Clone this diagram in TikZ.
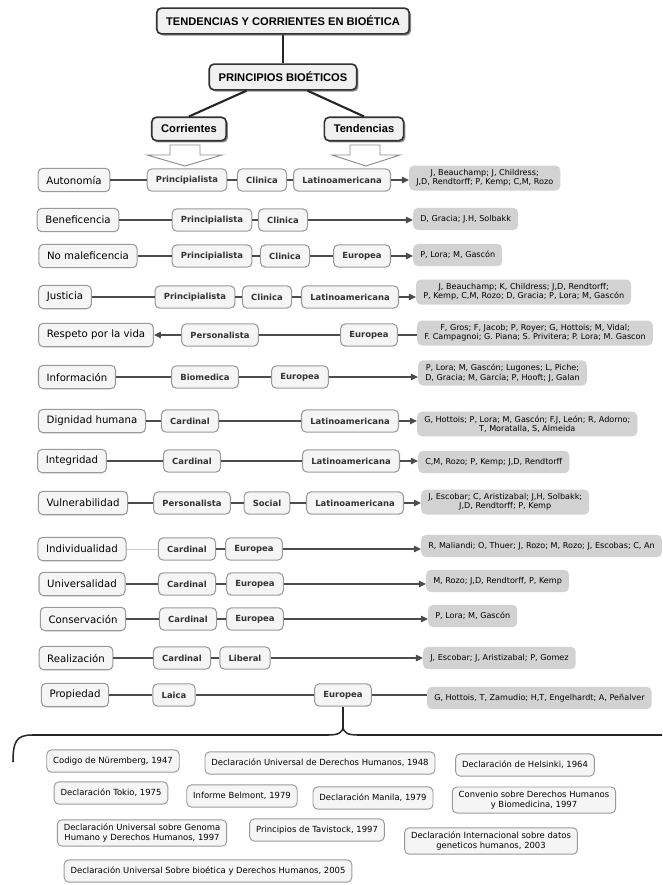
\documentclass[tikz,border=0pt]{standalone}
\usepackage{fontspec}
\setmainfont{DejaVu Sans}
\newfontfamily\titfont{Liberation Sans}
\usetikzlibrary{arrows.meta,shadows}

\begin{document}
\begin{tikzpicture}[x=0.03cm,y=-0.03cm,
    titulo/.style={draw=black!80,line width=1.4pt,fill=gray!12,rounded corners=4pt,
      drop shadow={fill=black!55,shadow xshift=1.5pt,shadow yshift=-1.5pt,opacity=0.8},
      font=\titfont\bfseries\fontsize{9.5}{11}\selectfont,inner xsep=8pt,minimum height=22pt},
    ppio/.style={draw=black!40,line width=0.9pt,fill=gray!8,rounded corners=4pt,
      font=\fontsize{8.7}{10}\selectfont,inner xsep=7pt,minimum height=20pt},
    tipo/.style={draw=black!40,line width=0.9pt,fill=gray!8,rounded corners=4pt,
      font=\bfseries\fontsize{7.2}{9}\selectfont,text=black!80,inner xsep=7.5pt,minimum height=19pt},
    autor/.style={fill=gray!35,rounded corners=4pt,align=center,anchor=west,
      font=\fontsize{6.9}{8}\selectfont,inner xsep=6pt,minimum height=19pt},
    doc/.style={draw=black!40,line width=0.8pt,fill=gray!8,rounded corners=4pt,align=center,
      font=\fontsize{7.2}{8.6}\selectfont,inner xsep=5.5pt,minimum height=19pt},
    enlace/.style={draw=black!70,line width=0.9pt},
    flecha/.style={enlace,-{Triangle[length=6pt,width=5.5pt]}},
    grueso/.style={draw=black!85,line width=1.8pt},
    bloque/.style={draw=black!45,line width=0.8pt,fill=white}]
  \useasboundingbox (0,0) rectangle (662,885);

  % cabecera
  \node[titulo] (t) at (283,21) {TENDENCIAS Y CORRIENTES EN BIOÉTICA};
  \node[titulo] (pb) at (283,77) {PRINCIPIOS BIOÉTICOS};
  \node[titulo,minimum height=20pt] (cor) at (189,129) {Corrientes};
  \node[titulo,minimum height=20pt] (ten) at (364,129) {Tendencias};
  \draw[grueso] (t) -- (pb);
  \draw[grueso] (pb.south west) ++(38,0) coordinate (pb1);
  \draw[grueso] (pb.south east) ++(-50,0) coordinate (pb2);
  \draw[grueso] (pb1) -- (cor.north);
  \draw[grueso] (pb2) -- (ten.north);
  \draw[bloque] (170,145) -- (200,145) -- (200,155) -- (222,155) -- (185,166)
    -- (147,155) -- (170,155) -- cycle;
  \draw[bloque] (350,145) -- (380,145) -- (380,155) -- (400,155) -- (366,166)
    -- (332,155) -- (350,155) -- cycle;

  % principios, corrientes, tendencias y autores
  \draw
    (74,180) node[ppio] (p1){Autonomía}
    (187,180) node[tipo] (1a){Principialista}
    (262,180) node[tipo] (1b){Clinica}
    (342,180) node[tipo] (1c){Latinoamericana}
    (409,178) node[autor] (a1){J, Beauchamp; J, Childress;\\J,D, Rendtorff; P, Kemp; C,M, Rozo}
    (78,220) node[ppio] (p2){Beneficencia}
    (212,220) node[tipo] (2a){Principialista}
    (283,220) node[tipo] (2b){Clinica}
    (413,219) node[autor] (a2){D, Gracia; J.H, Solbakk}
    (88,256) node[ppio] (p3){No maleficencia}
    (212,256) node[tipo] (3a){Principialista}
    (285,256) node[tipo] (3b){Clinica}
    (362,256) node[tipo] (3c){Europea}
    (413,255) node[autor] (a3){P, Lora; M, Gascón}
    (65,297) node[ppio] (p4){Justicia}
    (195,297) node[tipo] (4a){Principialista}
    (267,297) node[tipo] (4b){Clinica}
    (350,297) node[tipo] (4c){Latinoamericana}
    (416,292) node[autor] (a4){J, Beauchamp; K, Childress; J,D, Rendtorff;\\P, Kemp, C,M, Rozo; D, Gracia; P, Lora; M, Gascón}
    (96,335) node[ppio] (p5){Respeto por la vida}
    (220,335) node[tipo] (5a){Personalista}
    (369,335) node[tipo] (5b){Europea}
    (417,333) node[autor] (a5){F, Gros; F, Jacob; P, Royer; G, Hottois; M, Vidal;\\F. Campagnoi; G. Piana; S. Privitera; P. Lora; M. Gascon}
    (77,377) node[ppio] (p6){Información}
    (205,377) node[tipo] (6a){Biomedica}
    (300,377) node[tipo] (6b){Europea}
    (418,373) node[autor] (a6){P, Lora; M, Gascón; Lugones; L, Piche;\\D, Gracia; M, García; P, Hooft; J, Galan}
    (92,421) node[ppio] (p7){Dignidad humana}
    (190,421) node[tipo] (7a){Cardinal}
    (350,421) node[tipo] (7b){Latinoamericana}
    (417,424) node[autor] (a7){G, Hottois; P, Lora; M, Gascón; F.J, León; R, Adorno;\\T, Moratalla, S, Almeida}
    (72,461) node[ppio] (p8){Integridad}
    (192,461) node[tipo] (8a){Cardinal}
    (351,461) node[tipo] (8b){Latinoamericana}
    (418,462) node[autor] (a8){C,M, Rozo; P, Kemp; J,D, Rendtorff}
    (83,503) node[ppio] (p9){Vulnerabilidad}
    (192,503) node[tipo] (9a){Personalista}
    (267,503) node[tipo] (9b){Social}
    (355,503) node[tipo] (9c){Latinoamericana}
    (421,502) node[autor] (a9){J, Escobar; C, Aristizabal; J,H, Solbakk;\\J,D, Rendtorff; P, Kemp}
    (82,549) node[ppio] (p10){Individualidad}
    (187,549) node[tipo] (10a){Cardinal}
    (254,549) node[tipo] (10b){Europea}
    (421,546) node[autor] (a10){R, Maliandi; O, Thuer; J, Rozo; M, Rozo; J, Escobas; C, An}
    (82,584) node[ppio] (p11){Universalidad}
    (187,584) node[tipo] (11a){Cardinal}
    (255,584) node[tipo] (11b){Europea}
    (426,581) node[autor] (a11){M, Rozo; J,D, Rendtorff, P, Kemp}
    (83,619) node[ppio] (p12){Conservación}
    (188,619) node[tipo] (12a){Cardinal}
    (255,619) node[tipo] (12b){Europea}
    (428,616) node[autor] (a12){P, Lora; M, Gascón}
    (76,658) node[ppio] (p13){Realización}
    (182,658) node[tipo] (13a){Cardinal}
    (245,658) node[tipo] (13b){Liberal}
    (423,658) node[autor] (a13){J, Escobar; J, Aristizabal; P, Gomez}
    (75,695) node[ppio] (p14){Propiedad}
    (174,695) node[tipo] (14a){Laica}
    (343,695) node[tipo] (14b){Europea}
    (427,698) node[autor] (a14){G, Hottois, T, Zamudio; H,T, Engelhardt; A, Peñalver};
  \begin{scope}[enlace]
    \draw (p1) to (1a); \draw (1a) to (1b); \draw (1b) to (1c);
    \draw[flecha] (1c) to (1c -| a1.west);
    \draw (p2) to (2a); \draw (2a) to (2b);
    \draw[flecha] (2b) to (2b -| a2.west);
    \draw (p3) to (3a); \draw (3a) to (3b); \draw (3b) to (3c);
    \draw[flecha] (3c) to (3c -| a3.west);
    \draw (p4) to (4a); \draw (4a) to (4b); \draw (4b) to (4c);
    \draw[flecha] (4c) to (4c -| a4.west);
    \draw[flecha] (5a) to (p5); \draw (5a) to (5b);
    \draw (5b) to (5b -| a5.west);
    \draw (p6) to (6a); \draw (6a) to (6b);
    \draw[flecha] (6b) to (6b -| a6.west);
    \draw (p7) to (7a); \draw (7a) to (7b);
    \draw[flecha] (7b) to (7b -| a7.west);
    \draw (p8) to (8a); \draw (8a) to (8b);
    \draw[flecha] (8b) to (8b -| a8.west);
    \draw (p9) to (9a); \draw (9a) to (9b); \draw (9b) to (9c);
    \draw[flecha] (9c) to (9c -| a9.west);
    \draw[draw=black!20,line width=0.6pt] (p10) to (10a); \draw (10a) to (10b);
    \draw[flecha] (10b) to (10b -| a10.west);
    \draw (p11) to (11a); \draw (11a) to (11b);
    \draw[flecha] (11b) to (11b -| a11.west);
    \draw (p12) to (12a); \draw (12a) to (12b);
    \draw[flecha] (12b) to (12b -| a12.west);
    \draw (p13) to (13a); \draw (13a) to (13b);
    \draw[flecha] (13b) to (13b -| a13.west);
    \draw (p14) to (14a); \draw (14a) to (14b);
    \draw (14b) to (14b -| a14.west);
  \end{scope}

  % llave y documentos
  \coordinate (bt) at (343,726);
  \draw[draw=black!85,line width=1.3pt] (14b) -- (bt);
  \draw[draw=black!85,line width=1.3pt] (13,762) .. controls (13,742) and (16,735) .. (32,735)
    -- (328,735) .. controls (338,735) and (343,733) .. (bt)
    .. controls (343,733) and (348,735) .. (358,735) -- (662,735);
  \draw
    (113,761) node[doc] (d1){Codigo de Nüremberg, 1947}
    (320,763) node[doc] (d2){Declaración Universal de Derechos Humanos, 1948}
    (525,765) node[doc] (d3){Declaración de Helsinki, 1964}
    (111,793) node[doc] (d4){Declaración Tokio, 1975}
    (242,796) node[doc] (d5){Informe Belmont, 1979}
    (373,798) node[doc] (d6){Declaración Manila, 1979}
    (534,800) node[doc] (d7){Convenio sobre Derechos Humanos\\y Biomedicina, 1997}
    (142,833) node[doc] (d8){Declaración Universal sobre Genoma\\Humano y Derechos Humanos, 1997}
    (317,830) node[doc] (d9){Principios de Tavistock, 1997}
    (491,841) node[doc] (d10){Declaración Internacional sobre datos\\geneticos humanos, 2003}
    (208,871) node[doc] (d11){Declaración Universal Sobre bioética y Derechos Humanos, 2005};
\end{tikzpicture}
\end{document}
